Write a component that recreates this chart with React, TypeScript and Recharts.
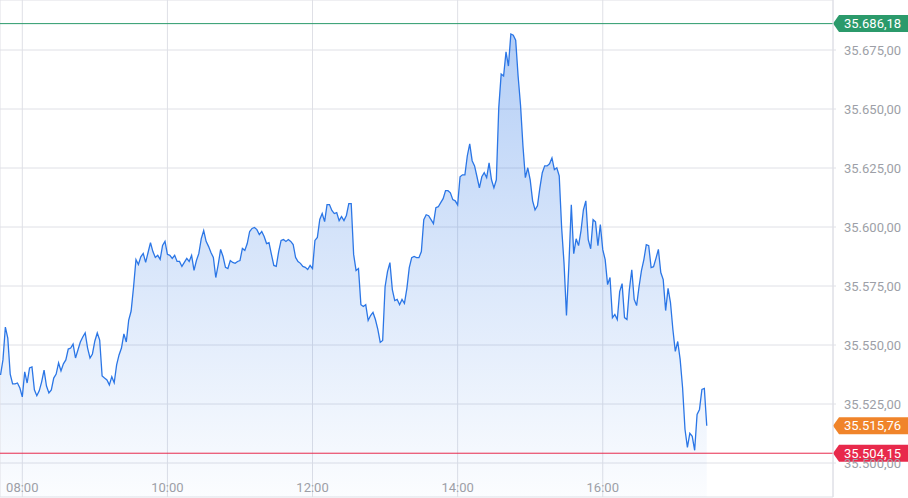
import { AreaChart, Area, XAxis, YAxis, CartesianGrid, ReferenceLine } from "recharts";

// intraday quotes, one point every 2 minutes starting 07:42
const START_MIN = 462;
const STEP_MIN = 2;

const prices = [
  35537.3, 35543.7, 35557.6, 35552.9, 35537.7, 35533.5, 35533.5, 35533.9, 35531.8, 35528.0,
  35538.6, 35533.9, 35540.3, 35540.7, 35531.0, 35528.5, 35530.6, 35534.4, 35539.4, 35532.6,
  35529.7, 35531.0, 35536.0, 35537.7, 35542.4, 35539.0, 35542.0, 35543.7, 35548.3, 35548.7,
  35550.4, 35544.5, 35547.9, 35551.3, 35553.4, 35555.1, 35548.7, 35544.5, 35546.2, 35551.7,
  35555.1, 35552.1, 35536.9, 35536.0, 35535.2, 35533.1, 35536.6, 35534.0, 35541.6, 35545.8,
  35548.7, 35554.7, 35551.3, 35560.6, 35564.4, 35574.6, 35586.2, 35584.1, 35587.4, 35588.8,
  35585.0, 35589.2, 35593.4, 35589.6, 35587.1, 35588.0, 35586.3, 35592.2, 35593.9, 35588.4,
  35588.0, 35586.7, 35588.0, 35585.4, 35585.4, 35583.3, 35585.0, 35586.7, 35585.4, 35588.0,
  35581.6, 35585.8, 35588.8, 35595.1, 35598.5, 35593.9, 35591.8, 35589.2, 35587.1, 35578.6,
  35584.1, 35590.5, 35587.5, 35582.9, 35582.4, 35585.8, 35585.0, 35584.6, 35585.4, 35585.8,
  35590.9, 35590.1, 35593.0, 35598.1, 35599.4, 35599.8, 35598.9, 35596.8, 35598.1, 35596.0,
  35593.0, 35593.4, 35588.4, 35583.7, 35583.3, 35589.6, 35594.3, 35594.7, 35593.9, 35594.7,
  35593.9, 35592.6, 35587.1, 35585.4, 35584.6, 35583.3, 35582.9, 35582.0, 35583.7, 35582.4,
  35594.3, 35595.6, 35603.2, 35605.7, 35602.3, 35609.5, 35609.5, 35607.0, 35605.7, 35606.1,
  35602.7, 35604.4, 35602.7, 35604.9, 35609.9, 35609.9, 35588.4, 35581.6, 35582.4,
  35567.1, 35566.3, 35567.1, 35560.4, 35562.5, 35563.8, 35560.8, 35556.6, 35551.1, 35551.9,
  35574.7, 35581.1, 35584.9, 35573.5, 35568.8, 35569.3, 35567.1, 35569.3, 35567.6, 35573.9,
  35582.8, 35587.0, 35587.5, 35587.0, 35587.0, 35589.6, 35603.1, 35605.2, 35604.8, 35603.1,
  35601.4, 35608.2, 35608.6, 35610.3, 35612.0, 35615.4, 35615.4, 35614.5, 35611.6, 35611.1,
  35609.4, 35621.3, 35622.1, 35622.1, 35630.2, 35635.2, 35628.1, 35625.9, 35621.3, 35616.6,
  35621.3, 35623.0, 35620.9, 35627.2, 35620.0, 35616.6, 35620.0, 35650.5, 35664.8, 35664.0,
  35674.2, 35668.2, 35681.8, 35681.3, 35679.2, 35664.0, 35651.7, 35634.4, 35620.9, 35625.1,
  35620.0, 35611.1, 35607.3, 35609.0, 35616.6, 35623.0, 35625.9, 35625.9, 35626.8, 35629.3,
  35624.3, 35625.1, 35621.7, 35599.7, 35584.5, 35562.5, 35584.1, 35609.4, 35588.7, 35595.0,
  35592.1, 35598.4, 35607.3, 35611.1, 35594.6, 35590.8, 35603.1, 35602.2, 35592.1, 35601.0,
  35590.4, 35586.2, 35575.6, 35578.6, 35561.6, 35562.9, 35560.8, 35572.6, 35576.0, 35561.6,
  35560.8, 35573.5, 35581.9, 35569.3, 35566.7, 35574.7, 35581.5, 35586.2, 35592.5, 35592.1,
  35582.8, 35583.2, 35586.7, 35590.5, 35580.7, 35577.7, 35564.6, 35574.0, 35568.0, 35556.6,
  35547.3, 35551.5, 35543.9, 35532.0, 35514.3, 35506.6, 35512.6, 35511.3, 35505.4, 35520.6,
  35522.7, 35531.2, 35531.6, 35515.76,
];

const HIGH = 35686.18;
const LOW = 35504.15;
const LAST = 35515.76;

const yTicks = [35500, 35525, 35550, 35575, 35600, 35625, 35650, 35675];
const xTicks = [480, 600, 720, 840, 960];
const xLabels = ["08:00", "10:00", "12:00", "14:00", "16:00"];

const Y_DOMAIN = [35485.6, 35696.19];
const X_DOMAIN = [461.56, 1150.4];

const GREEN = "#2b9a6b";
const RED = "#e8294b";
const ORANGE = "#f0842a";
const GRID = "#dfe0e6";
const TEXT = "#9d9fa7";
const FONT = "Roboto, sans-serif";

const data = prices.map((v, i) => ({ t: START_MIN + i * STEP_MIN, v }));

function fmt(v: number) {
  const [int, dec] = v.toFixed(2).split(".");
  return int.replace(/\B(?=(\d{3})+(?!\d))/g, ".") + "," + dec;
}

function Badge(props: any) {
  const { viewBox, price, color } = props;
  const x0 = viewBox.x + viewBox.width;
  const y = viewBox.y;
  const h = 8.5;
  return (
    <g>
      <path
        d={`M${x0},${y} L${x0 + 6},${y - h} L${x0 + 75},${y - h} L${x0 + 75},${y + h} L${x0 + 6},${y + h} Z`}
        fill={color}
      />
      <text x={x0 + 11} y={y + 4.5} fill="#fff" fontSize={13} fontFamily={FONT}>
        {fmt(price)}
      </text>
    </g>
  );
}

function XTick(props: any) {
  const { x, y, payload } = props;
  return (
    <text x={x} y={y - 5} textAnchor="middle" fill={TEXT} fontSize={13} fontFamily={FONT}>
      {xLabels[xTicks.indexOf(payload.value)]}
    </text>
  );
}

export default function App() {
  return (
    <div style={{ position: "absolute", left: 0, top: 0, background: "#fff", fontFamily: FONT }}>
      <AreaChart width={908} height={498} data={data} margin={{ top: 0, right: 0, bottom: 0, left: 0 }}>
        <defs>
          <linearGradient id="fillGrad" x1="0" y1="0" x2="0" y2="1">
            <stop offset="0%" stopColor="#2f78e6" stopOpacity={0.6} />
            <stop offset="40%" stopColor="#2f78e6" stopOpacity={0.36} />
            <stop offset="100%" stopColor="#2f78e6" stopOpacity={0.03} />
          </linearGradient>
        </defs>
        <CartesianGrid stroke={GRID} />
        <XAxis
          dataKey="t"
          type="number"
          domain={X_DOMAIN}
          ticks={xTicks}
          interval={0}
          allowDataOverflow
          height={1}
          axisLine={false}
          tickLine={false}
          tickSize={0}
          tickMargin={0}
          tick={<XTick />}
        />
        <YAxis
          orientation="right"
          type="number"
          domain={Y_DOMAIN}
          ticks={yTicks}
          interval={0}
          allowDataOverflow
          width={75}
          tickFormatter={fmt}
          tickSize={3}
          tickMargin={8}
          axisLine={{ stroke: GRID }}
          tickLine={{ stroke: GRID }}
          tick={{ fill: TEXT, fontSize: 13, fontFamily: FONT }}
        />
        <Area
          type="linear"
          dataKey="v"
          stroke="#2b76e6"
          strokeWidth={1.3}
          fill="url(#fillGrad)"
          dot={false}
          activeDot={false}
          isAnimationActive={false}
        />
        <ReferenceLine y={HIGH} stroke={GREEN} strokeWidth={1} label={<Badge price={HIGH} color={GREEN} />} />
        <ReferenceLine y={LOW} stroke={RED} strokeWidth={1} label={<Badge price={LOW} color={RED} />} />
        <ReferenceLine y={LAST} stroke="none" label={<Badge price={LAST} color={ORANGE} />} />
      </AreaChart>
    </div>
  );
}
